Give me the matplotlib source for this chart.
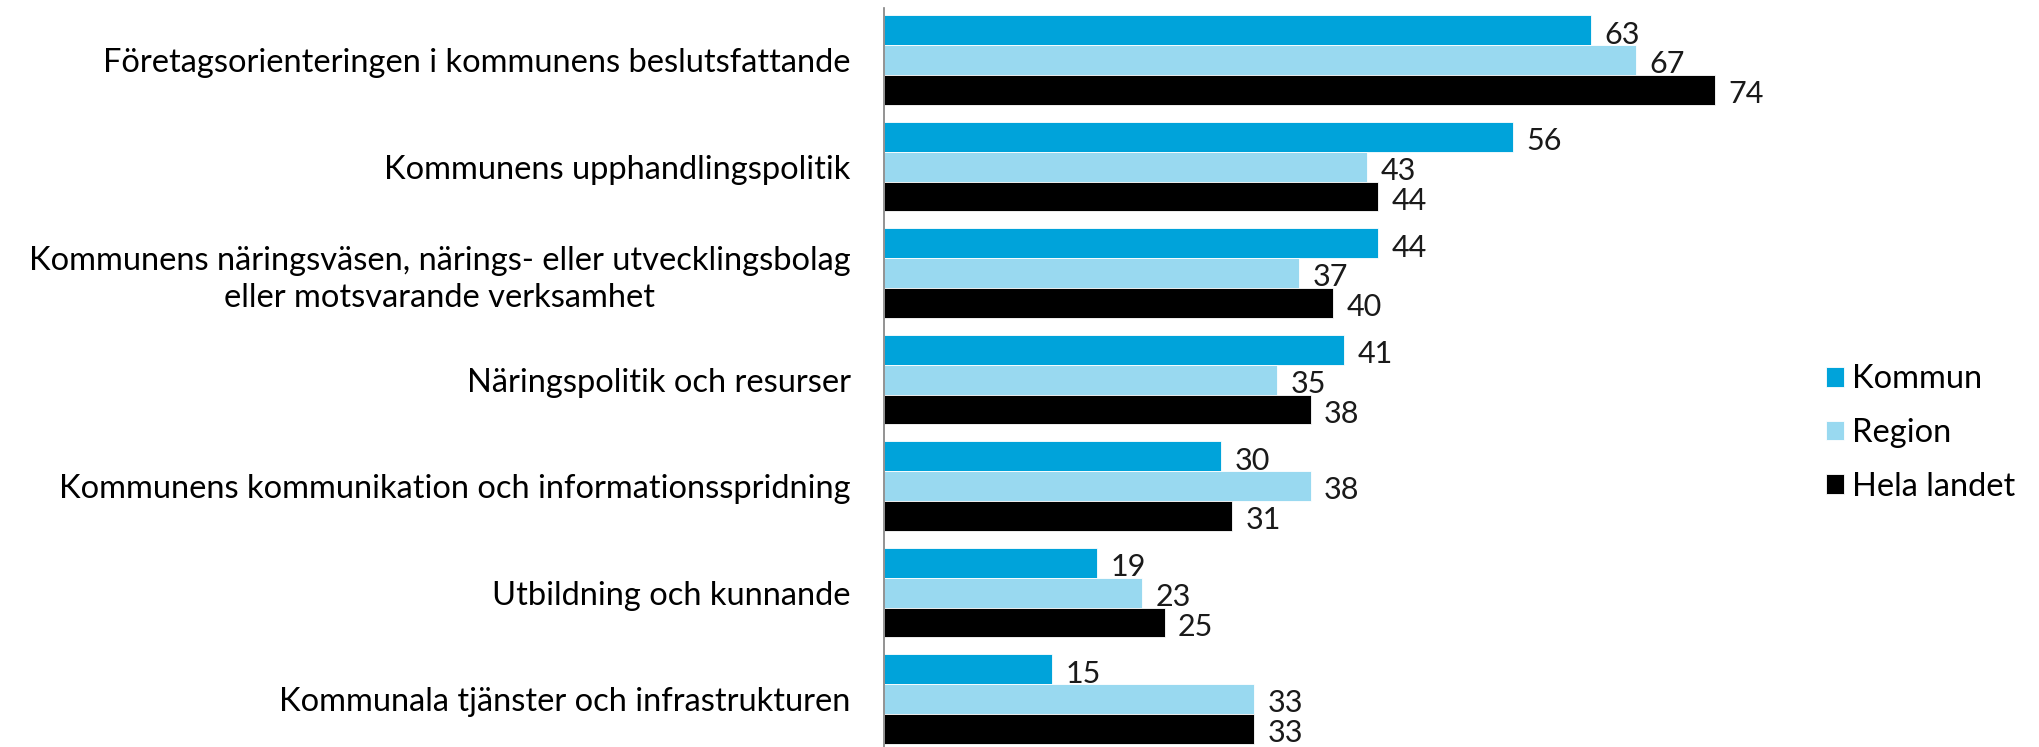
import numpy as np
import matplotlib.pyplot as plt

# Data
kategorier = [
    'Företagsorienteringen i kommunens beslutsfattande',
    'Kommunens upphandlingspolitik',
    'Kommunens näringsväsen, närings- eller utvecklingsbolag\neller motsvarande verksamhet',
    'Näringspolitik och resurser',
    'Kommunens kommunikation och informationsspridning',
    'Utbildning och kunnande',
    'Kommunala tjänster och infrastrukturen',
]
kommun = [63, 56, 44, 41, 30, 19, 15]
region = [67, 43, 37, 35, 38, 23, 33]
hela_landet = [74, 44, 40, 38, 31, 25, 33]

serier = ['Kommun', 'Region', 'Hela landet']
farger = ['#00A3DA', '#99D9F0', '#000000']

plt.rcParams['font.family'] = ['Lato', 'DejaVu Sans']

fig = plt.figure(figsize=(20.4, 7.47), dpi=100)
ax = fig.add_axes([884 / 2040, 0, 916 / 2040, 1 - 8 / 747])

y = np.arange(len(kategorier))
h = 0.28
for i, (namn, varden, farg) in enumerate(zip(serier, [kommun, region, hela_landet], farger)):
    pos = y + (i - 1) * h
    ax.barh(pos, varden, height=h, color=farg, edgecolor='white', linewidth=0.6, label=namn)
    for p, v in zip(pos, varden):
        ax.text(v + 1.2, p + 0.04, str(v), va='center', ha='left', fontsize=22, color='#1a1a1a')

ax.set_xlim(0, 81.6)
ax.set_ylim(6.45, -0.49)
ax.set_yticks(y)
ax.set_yticklabels(kategorier, fontsize=23.5, multialignment='center', linespacing=1.3)
ax.tick_params(axis='y', length=0, pad=24)
ax.set_xticks([])
for s in ['top', 'right', 'bottom']:
    ax.spines[s].set_visible(False)
ax.spines['left'].set_color('#808080')
ax.spines['left'].set_linewidth(1.2)

handles, labels = ax.get_legend_handles_labels()
fig.legend(handles, labels, loc='center left', bbox_to_anchor=(1826 / 2040, (747 - 433) / 747),
           bbox_transform=fig.transFigure, frameon=False, fontsize=23.5,
           borderpad=0, borderaxespad=0,
           handlelength=0.55, handleheight=0.55, handletextpad=0.25, labelspacing=0.72)

fig.savefig('out.png', dpi=100)
